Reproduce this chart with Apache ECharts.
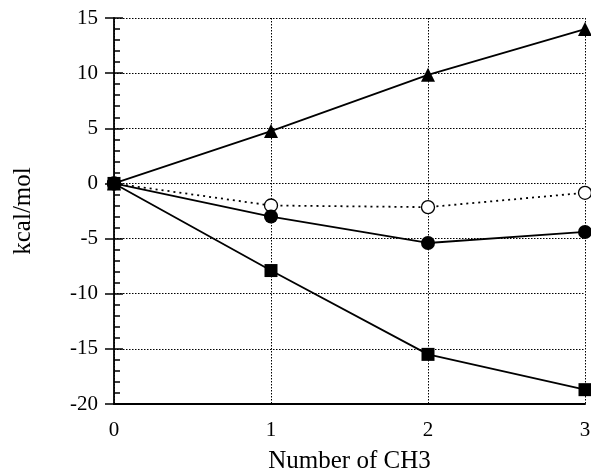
<!DOCTYPE html>
<html><head><meta charset="utf-8">
<script src="https://cdn.jsdelivr.net/npm/echarts@6/dist/echarts.min.js"></script>
<style>html,body{margin:0;padding:0;background:#fff}#c{width:591px;height:475px}</style>
</head><body><div id="c"></div>
<script>
const xs = [0, 1, 2, 3];
const triangle = [0, 4.75, 9.85, 14.0];
const openCircle = [0, -2.0, -2.15, -0.85];
const filledCircle = [0, -3.0, -5.4, -4.4];
const square = [0, -7.9, -15.5, -18.7];
const xTitle = 'Number of CH3';
const yTitle = 'kcal/mol';

const pts = a => xs.map((x, i) => [x, a[i]]);
const font = 'Liberation Serif, Times New Roman, serif';
const chart = echarts.init(document.getElementById('c'));
const solid = {color: '#000', width: 1.8};
chart.setOption({
  animation: false,
  grid: {left: 114, right: 6, top: 18, bottom: 71, containLabel: false, outerBoundsMode: 'none'},
  xAxis: {
    type: 'value', min: 0, max: 3, interval: 1,
    name: xTitle, nameLocation: 'middle', nameGap: 45,
    nameTextStyle: {fontFamily: font, fontSize: 25, color: '#000'},
    axisLine: {show: true, onZero: false, lineStyle: {color: '#000', width: 2}},
    axisTick: {show: false},
    axisLabel: {fontFamily: font, fontSize: 21, color: '#000', margin: 16},
    splitLine: {show: true, lineStyle: {color: '#000', type: [1.5, 1.5], width: 1}}
  },
  yAxis: [{
    type: 'value', min: -20, max: 15, interval: 5,
    name: yTitle, nameLocation: 'middle', nameGap: 78, nameRotate: 90,
    nameTextStyle: {fontFamily: font, fontSize: 25, color: '#000'},
    axisLine: {show: true, onZero: false, lineStyle: {color: '#000', width: 1.8}},
    axisTick: {show: true, inside: true, length: 9, lineStyle: {color: '#000', width: 1.5}},
    minorTick: {show: true, splitNumber: 5, length: 6, lineStyle: {color: '#000', width: 1.5}},
    axisLabel: {fontFamily: font, fontSize: 21, color: '#000', margin: 16},
    splitLine: {show: true, lineStyle: {color: '#000', type: [1.5, 1.5], width: 1}}
  }, {
    type: 'value', min: -20, max: 15, interval: 5, position: 'left',
    axisLine: {show: false, onZero: false},
    axisTick: {show: true, inside: false, length: 9, lineStyle: {color: '#000', width: 1.5}},
    axisLabel: {show: false},
    splitLine: {show: false}
  }],
  series: [
    {type: 'line', data: pts(triangle), symbol: 'triangle', symbolSize: 14, clip: false,
     lineStyle: solid, itemStyle: {color: '#000'}},
    {type: 'line', data: pts(openCircle), symbol: 'circle', symbolSize: 13, clip: false,
     lineStyle: {color: '#000', width: 1.8, type: [2, 4]}, itemStyle: {color: '#fff', borderColor: '#000', borderWidth: 1.3}},
    {type: 'line', data: pts(filledCircle), symbol: 'circle', symbolSize: 14, clip: false,
     lineStyle: solid, itemStyle: {color: '#000'}},
    {type: 'line', data: pts(square), symbol: 'rect', symbolSize: 13, clip: false,
     lineStyle: solid, itemStyle: {color: '#000'}}
  ]
});
</script></body></html>
